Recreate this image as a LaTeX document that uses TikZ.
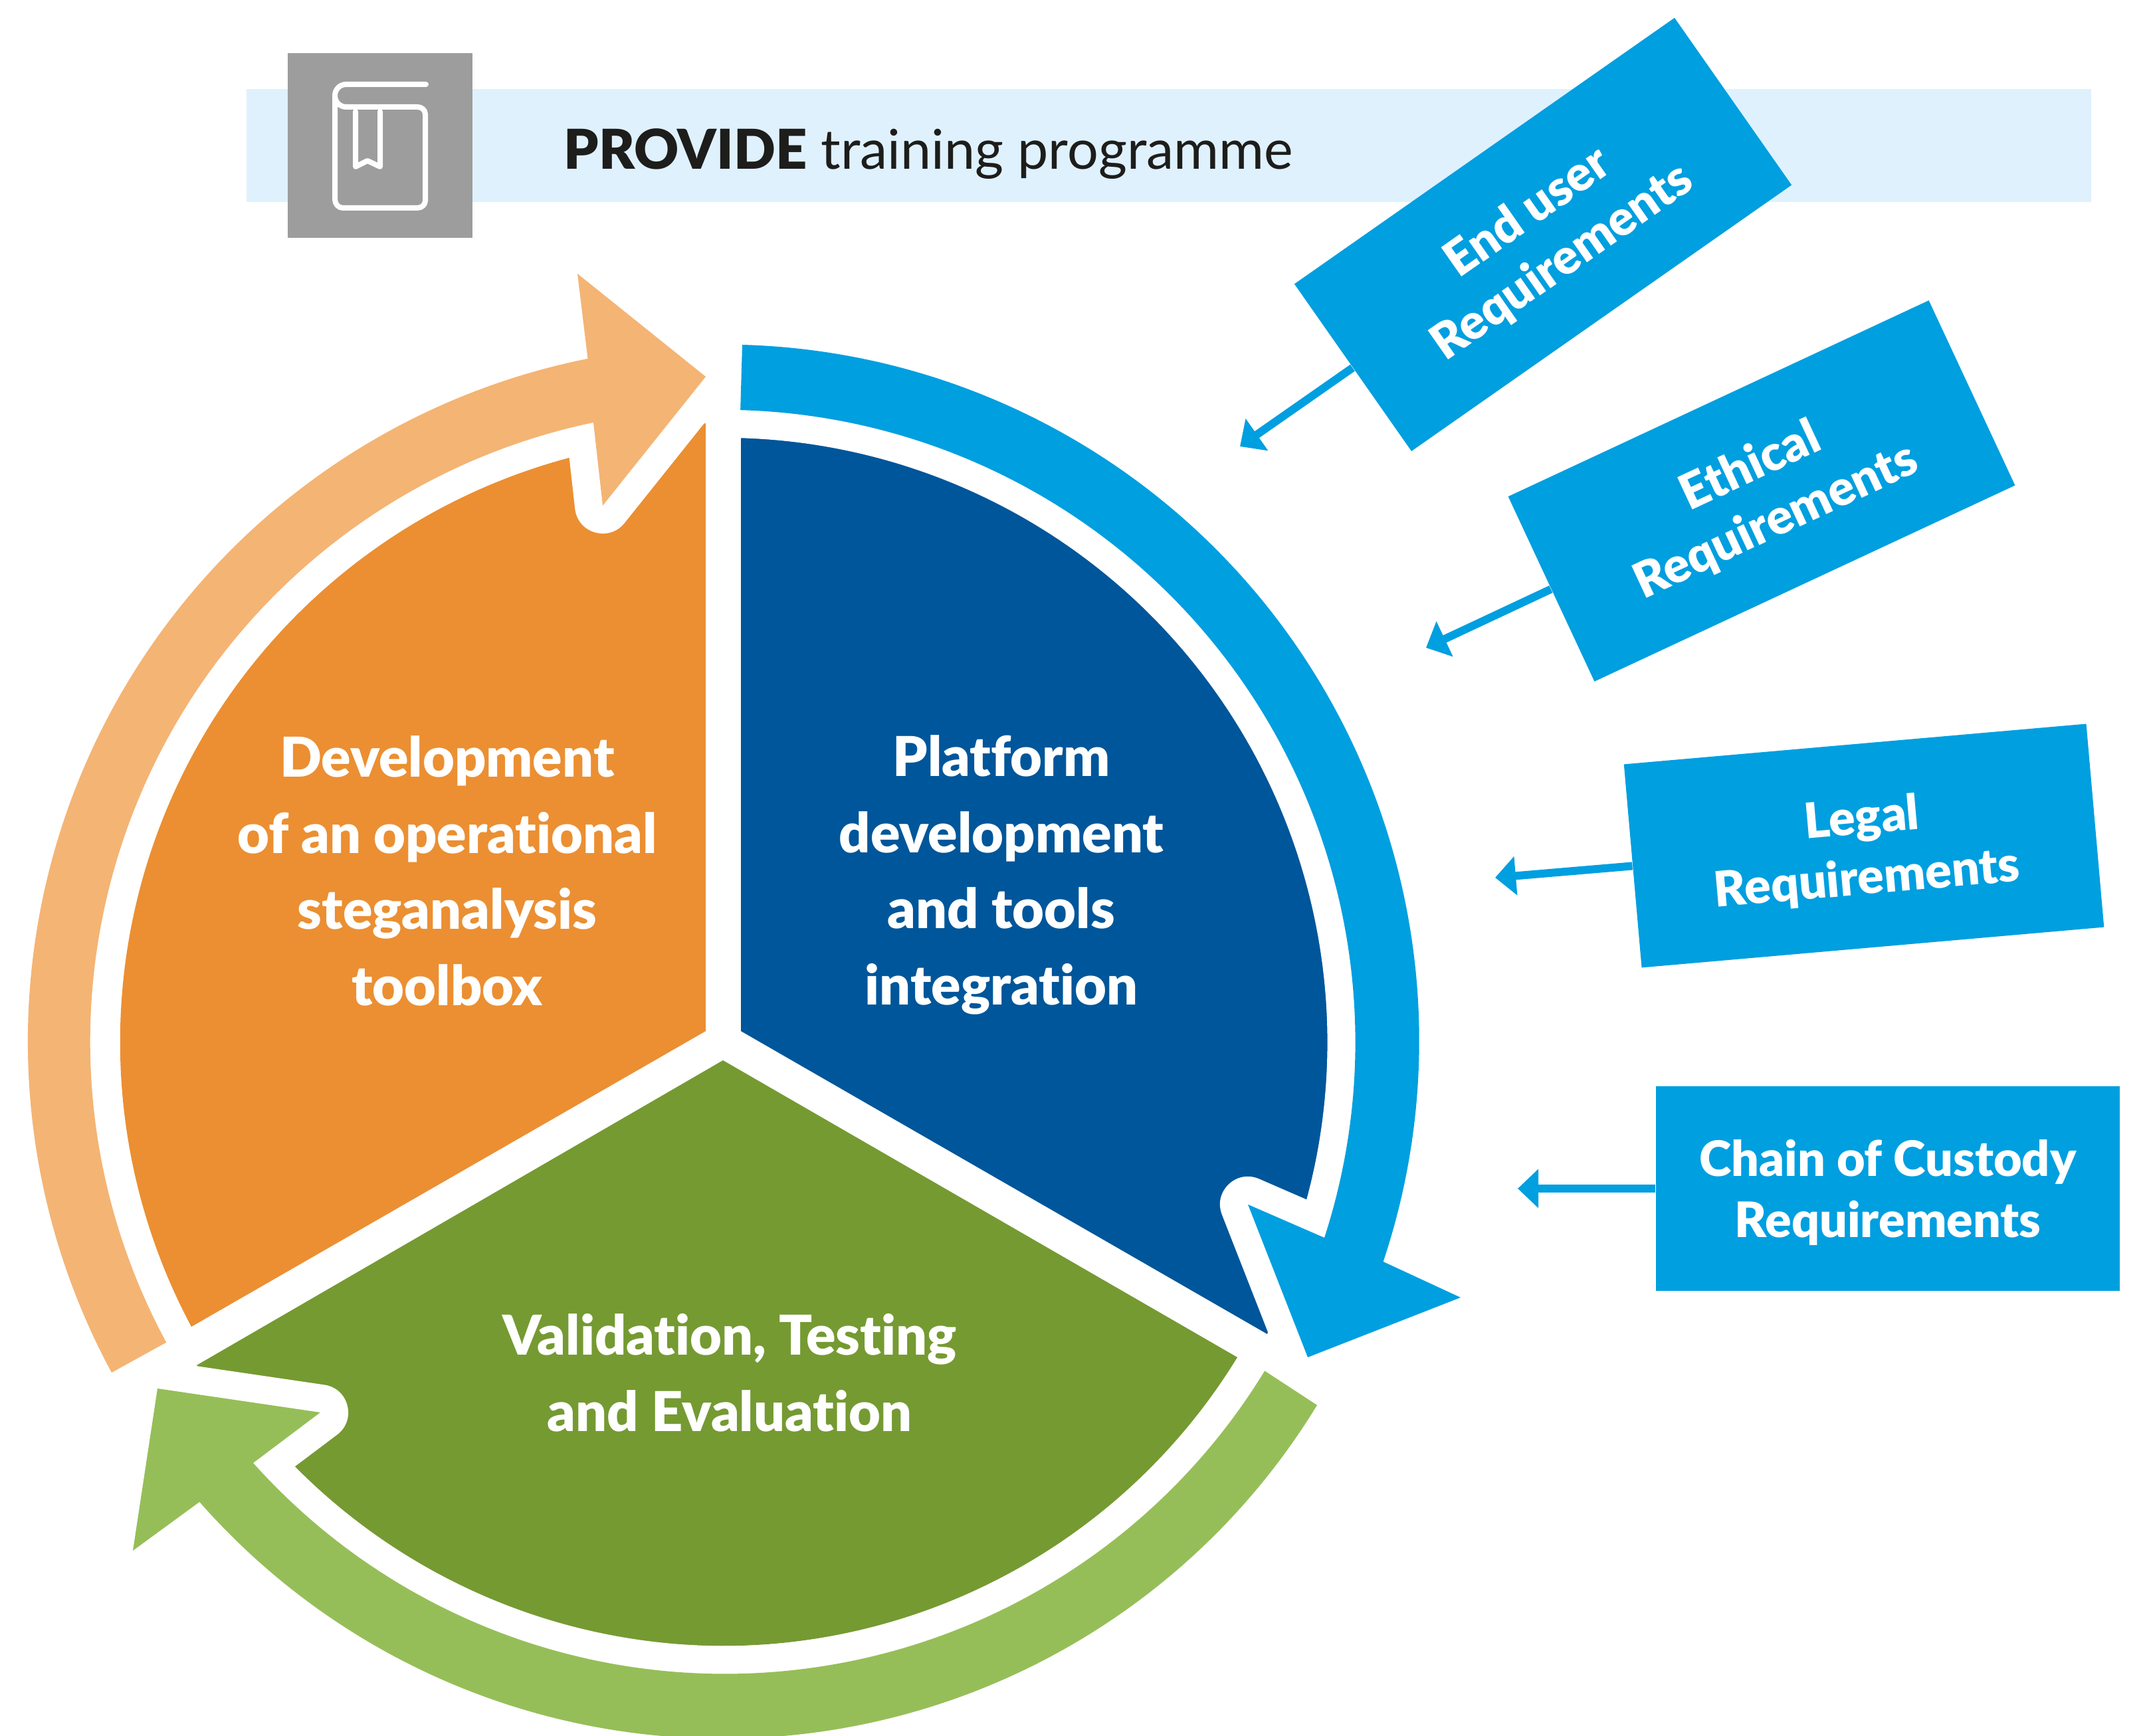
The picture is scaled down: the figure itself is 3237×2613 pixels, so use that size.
\documentclass[tikz,border=0pt]{standalone}
\usepackage{fontspec}
\usepackage{tikz}
\usetikzlibrary{arrows.meta}
\setmainfont{Lato}[BoldFont={Lato Black}, Ligatures=NoCommon]
\definecolor{platformblue}{HTML}{00569A}
\definecolor{flowblue}{HTML}{009FE0}
\definecolor{toolorange}{HTML}{EB8F32}
\definecolor{floworange}{HTML}{F4B474}
\definecolor{testgreen}{HTML}{759A32}
\definecolor{flowgreen}{HTML}{96BE58}
\definecolor{bandblue}{HTML}{DFF1FD}
\definecolor{bookgrey}{HTML}{9D9D9D}
\definecolor{titleblack}{HTML}{1D1D1B}
\tikzset{x=0.01cm, y=0.01cm,
  flowarrow/.style={fill=#1, preaction={draw=white, line width=0.84cm, line join=round}},
  sectorlabel/.style={text=white, font=\fontsize{23.5}{32.6}\selectfont\bfseries, align=center},
  reqbox/.style={fill=flowblue, text=white, font=\fontsize{20.9}{25.9}\selectfont\bfseries, align=center, minimum width=6.98cm, minimum height=3.07cm, inner sep=0pt, text height=45pt},
  reqarrow/.style={draw=flowblue, line width=0.12cm, -{Triangle[length=0.31cm,width=0.57cm]}}}
\begin{document}
\begin{tikzpicture}
  \useasboundingbox (0,0) rectangle (3237,2613);
  % title band and book
  \node (band) [fill=bandblue, minimum width=27.74cm, minimum height=1.7cm, inner sep=0pt] at (1759,2394) {};
  \node (booksq) [fill=bookgrey, minimum width=2.78cm, minimum height=2.78cm, inner sep=0pt] at (572,2394) {};
  \draw[white, line width=0.08cm, line cap=round, line join=round]
    (641,2486) -- (521,2486) .. controls (511,2486) and (504,2478) .. (504,2469) -- (504,2313)
    .. controls (504,2306) and (509,2300) .. (516,2300) -- (628,2300)
    .. controls (635,2300) and (640,2305) .. (640,2311) -- (640,2441)
    .. controls (640,2447) and (635,2452) .. (628,2452) -- (521,2452)
    .. controls (511,2452) and (504,2460) .. (504,2469);
  \draw[white, line width=0.08cm, line cap=round, line join=round]
    (535,2445) -- (535,2362) -- (553,2371) -- (572,2362) -- (572,2445);
  \node (title) [anchor=base west, text=titleblack, font=\fontsize{23.5}{30}\selectfont, inner sep=0pt] at (848,2358) {\textbf{PROVIDE} training programme};
  % sectors
  \fill[platformblue] (1115,1061) -- (1115,1954) arc (88.3:-15:910) -- (1907,605) -- cycle;
  \fill[toolorange] (1062,1061) -- (288,616) arc (208.1:104.8:910) -- (1062,1976) -- cycle;
  \fill[testgreen] (1088,1017) -- (1862,570) arc (-31.5:-135.2:910) -- (296,558) -- cycle;
  % arrows round the circle
  \path[flowarrow=flowblue] (1117,2094) arc (88.4:-18.5:1048) -- (2198,660) -- (1968,570) -- (1878,800) -- (1993,750) arc (-18:88.4:952) -- cycle;
  \path[flowarrow=floworange] (168,547) arc (208.4:101.3:1048) -- (869,2201) -- (1062,2046) -- (907,1852) -- (893,1977) arc (101.8:208.4:952) -- cycle;
  \path[flowarrow=flowgreen] (1982,498) arc (-31.4:-138.7:1048) -- (200,279) -- (237,523) -- (482,487) -- (381,411) arc (-138.2:-31.4:952) -- cycle;
  % labels
  \node (platform) [sectorlabel] at (1507,1296) {Platform\\development\\and tools\\integration};
  \node (toolbox) [sectorlabel] at (673,1302) {Development\\of an operational\\steganalysis\\toolbox};
  \node (testing) [sectorlabel] at (1098,547) {Validation, Testing\\and Evaluation};
  % requirements
  \node (enduser) [reqbox, rotate=35] at (2322,2260) {End user\\Requirements};
  \node (ethical) [reqbox, rotate=25] at (2651,1874) {Ethical\\Requirements};
  \node (legal) [reqbox, rotate=5] at (2805,1340) {Legal\\Requirements};
  \node (custody) [reqbox] at (2841,824) {Chain of Custody\\Requirements};
  \coordinate (endusertip) at (1866,1941);
  \coordinate (ethicaltip) at (2146,1638);
  \coordinate (legaltip) at (2250,1292);
  \coordinate (custodytip) at (2284,824);
  \draw[reqarrow] (enduser.west) -- (endusertip);
  \draw[reqarrow] (ethical.west) -- (ethicaltip);
  \draw[reqarrow] (legal.west) -- (legaltip);
  \draw[reqarrow] (custody.west) -- (custodytip);
\end{tikzpicture}
\end{document}
